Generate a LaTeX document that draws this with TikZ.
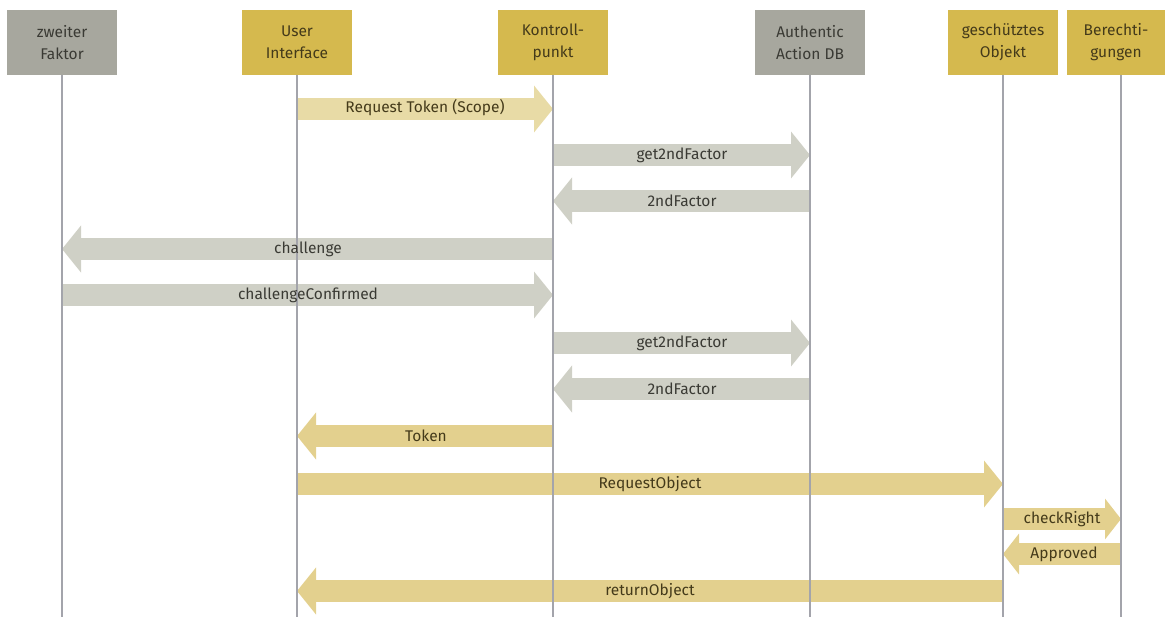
\documentclass[tikz,border=0pt]{standalone}
\usepackage{fontspec}
\setmainfont{Fira Sans}
\usetikzlibrary{arrows.meta}
\definecolor{hgray}{HTML}{A7A79E}
\definecolor{hgold}{HTML}{D5B94E}
\definecolor{agray}{HTML}{CFD0C6}
\definecolor{agold}{HTML}{E3D08E}
\definecolor{agoldl}{HTML}{E8DBA6}
\definecolor{lline}{HTML}{A3A4AB}
\definecolor{tgray}{HTML}{3A3A34}
\definecolor{tgold}{HTML}{443A1A}
\tikzset{
  hdr/.style={minimum width=110pt, minimum height=65pt, inner sep=0pt, align=center, font=\fontsize{15.5}{22}\selectfont},
  hgrayb/.style={hdr, fill=hgray, text=tgray},
  hgoldb/.style={hdr, fill=hgold, text=tgold},
  life/.style={draw=lline, line width=1.8pt},
  msg/.style={line width=22pt, -{Triangle[length=19pt,width=46pt]}},
  mgray/.style={msg, draw=agray, fill=agray},
  mgold/.style={msg, draw=agold, fill=agold},
  mgoldl/.style={msg, draw=agoldl, fill=agoldl},
  lbl/.style={font=\fontsize{15.5}{18}\selectfont, inner sep=0pt},
}
\begin{document}
\begin{tikzpicture}[x=1pt,y=-1pt]
\useasboundingbox (0,0) rectangle (1165,617);
% headers
\node[hgrayb] (zf) at (62,42.5) {zweiter\\Faktor};
\node[hgoldb] (ui) at (297,42.5) {User\\Interface};
\node[hgoldb] (kp) at (553,42.5) {Kontroll-\\punkt};
\node[hgrayb] (ad) at (810,42.5) {Authentic\\Action DB};
\node[hgoldb] (go) at (1003,42.5) {geschütztes\\Objekt};
\node[hgoldb, minimum width=98pt] (bg) at (1116,42.5) {Berechti-\\gungen};
% lifeline coordinates
\coordinate (zfb) at (62,617);
\coordinate (uib) at (297,617);
\coordinate (kpb) at (553,617);
\coordinate (adb) at (810,617);
\coordinate (gob) at (1003,617);
\coordinate (bgb) at (1121,617);
% message coordinates
\foreach \n/\y in {1/109,2/155,3/201,4/249,5/295,6/343,7/389,8/436,9/484,10/519,11/554,12/591}{
  \coordinate (zf\n) at (62,\y);
  \coordinate (ui\n) at (297,\y);
  \coordinate (kp\n) at (553,\y);
  \coordinate (ad\n) at (810,\y);
  \coordinate (go\n) at (1003,\y);
  \coordinate (bg\n) at (1121,\y);
}
\draw[mgoldl] (ui1) -- (kp1);
\draw[mgray] (kp2) -- (ad2);
\draw[mgray] (ad3) -- (kp3);
\draw[mgray] (kp4) -- (zf4);
\draw[mgray] (zf5) -- (kp5);
\draw[mgray] (kp6) -- (ad6);
\draw[mgray] (ad7) -- (kp7);
\draw[mgold] (kp8) -- (ui8);
\draw[mgold] (ui9) -- (go9);
\draw[mgold, -{Triangle[length=16pt,width=40pt]}] (go10) -- (bg10);
\draw[mgold, -{Triangle[length=16pt,width=40pt]}] (bg11) -- (go11);
\draw[mgold] (go12) -- (ui12);
% lifelines
\draw[life] (zf.south) -- (zfb);
\draw[life] (ui.south) -- (uib);
\draw[life] (kp.south) -- (kpb);
\draw[life] (ad.south) -- (adb);
\draw[life] (go.south) -- (gob);
\draw[life] (bg.south -| bgb) -- (bgb);
% labels
\node[lbl, text=tgold] (l1) at (425,108) {Request Token (Scope)};
\node[lbl, text=tgray] (l2) at (682,155) {get2ndFactor};
\node[lbl, text=tgray] (l3) at (682,201) {2ndFactor};
\node[lbl, text=tgray] (l4) at (308,249) {challenge};
\node[lbl, text=tgray] (l5) at (308,295) {challengeConfirmed};
\node[lbl, text=tgray] (l6) at (682,343) {get2ndFactor};
\node[lbl, text=tgray] (l7) at (682,389) {2ndFactor};
\node[lbl, text=tgold] (l8) at (426,436) {Token};
\node[lbl, text=tgold] (l9) at (650,484) {RequestObject};
\node[lbl, text=tgold] (l10) at (1062,519) {checkRight};
\node[lbl, text=tgold] (l11) at (1064,554) {Approved};
\node[lbl, text=tgold] (l12) at (650,591) {returnObject};
\end{tikzpicture}
\end{document}
